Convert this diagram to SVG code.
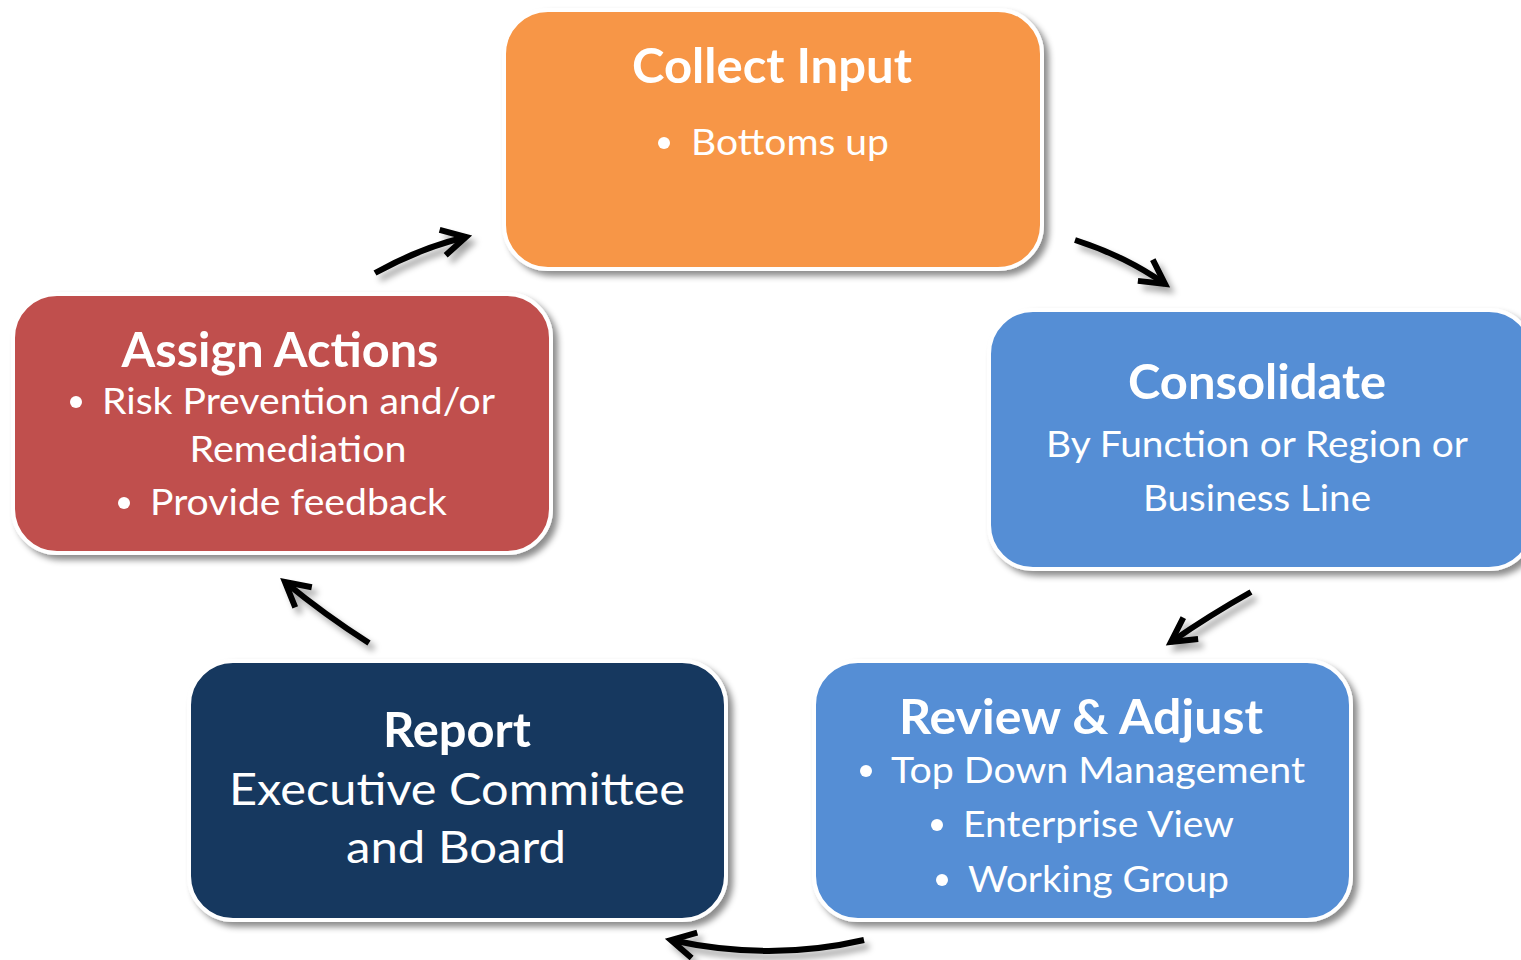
<svg xmlns="http://www.w3.org/2000/svg" width="1521" height="960" viewBox="0 0 1521 960">
  <style>
    .box { stroke: #ffffff; stroke-width: 4; }
    .title { font-family: Lato, "Open Sans", sans-serif; font-weight: bold; fill: #ffffff; text-anchor: middle; }
    .body { font-family: Lato, "Open Sans", sans-serif; fill: #ffffff; }
    .mid { text-anchor: middle; }
    .dot { fill: #ffffff; }
    .conn { fill: none; stroke: #000000; stroke-width: 6; stroke-linecap: butt; }
  </style>
  <defs>
    <filter id="shadow" x="-10%" y="-10%" width="125%" height="130%">
      <feDropShadow dx="5" dy="5" stdDeviation="3" flood-color="#000000" flood-opacity="0.45"/>
    </filter>
    <filter id="arrowShadow" x="-30%" y="-30%" width="170%" height="190%">
      <feDropShadow dx="5" dy="6" stdDeviation="3" flood-color="#000000" flood-opacity="0.35"/>
    </filter>
    <marker id="head" markerUnits="userSpaceOnUse" markerWidth="40" markerHeight="40" refX="0" refY="0" viewBox="-30 -20 40 40" orient="auto" overflow="visible">
      <path d="M-24,-13 L0,0 L-24,13" fill="none" stroke="#000000" stroke-width="6" stroke-linejoin="miter"/>
    </marker>
  </defs>

  <!-- connectors -->
  <g id="connectors" filter="url(#arrowShadow)">
    <path class="conn" d="M375,273 Q420,248 466,237" marker-end="url(#head)"/>
    <path class="conn" d="M1075,240 Q1125,256 1165,284" marker-end="url(#head)"/>
    <path class="conn" d="M1251,592 Q1210,615 1171,642" marker-end="url(#head)"/>
    <path class="conn" d="M864,940 Q770,962 671,940" marker-end="url(#head)"/>
    <path class="conn" d="M369,643 Q325,615 285,582" marker-end="url(#head)"/>
  </g>

  <!-- Collect Input -->
  <g id="collect-input">
    <rect class="box" x="504" y="10" width="538" height="259" rx="44" fill="#F79646" filter="url(#shadow)"/>
    <text class="title" x="772" y="83" font-size="48" textLength="280" lengthAdjust="spacingAndGlyphs">Collect Input</text>
    <circle class="dot" cx="664" cy="143" r="6"/>
    <text class="body" x="691" y="155" font-size="37" textLength="198" lengthAdjust="spacingAndGlyphs">Bottoms up</text>
  </g>

  <!-- Consolidate -->
  <g id="consolidate">
    <rect class="box" x="989" y="310" width="544" height="259" rx="44" fill="#558ED5" filter="url(#shadow)"/>
    <text class="title" x="1257" y="399" font-size="48" textLength="258" lengthAdjust="spacingAndGlyphs">Consolidate</text>
    <text class="body mid" x="1257" y="457" font-size="37" textLength="422" lengthAdjust="spacingAndGlyphs">By Function or Region or</text>
    <text class="body mid" x="1257" y="511" font-size="37" textLength="228" lengthAdjust="spacingAndGlyphs">Business Line</text>
  </g>

  <!-- Assign Actions -->
  <g id="assign-actions">
    <rect class="box" x="13" y="294" width="538" height="259" rx="44" fill="#C0504D" filter="url(#shadow)"/>
    <text class="title" x="280" y="367" font-size="48" textLength="317" lengthAdjust="spacingAndGlyphs">Assign Actions</text>
    <circle class="dot" cx="76" cy="402" r="6"/>
    <text class="body" x="102" y="414" font-size="37" textLength="393" lengthAdjust="spacingAndGlyphs">Risk Prevention and/or</text>
    <text class="body mid" x="298" y="462" font-size="37" textLength="217" lengthAdjust="spacingAndGlyphs">Remediation</text>
    <circle class="dot" cx="124" cy="503" r="6"/>
    <text class="body" x="150" y="515" font-size="37" textLength="297" lengthAdjust="spacingAndGlyphs">Provide feedback</text>
  </g>

  <!-- Report -->
  <g id="report">
    <rect class="box" x="189" y="661" width="537" height="259" rx="44" fill="#17375E" filter="url(#shadow)"/>
    <text class="title" x="457" y="747" font-size="48" textLength="148" lengthAdjust="spacingAndGlyphs">Report</text>
    <text class="body mid" x="457" y="805" font-size="44" textLength="456" lengthAdjust="spacingAndGlyphs">Executive Committee</text>
    <text class="body mid" x="456" y="863" font-size="44" textLength="220" lengthAdjust="spacingAndGlyphs">and Board</text>
  </g>

  <!-- Review & Adjust -->
  <g id="review-adjust">
    <rect class="box" x="814" y="661" width="537" height="259" rx="44" fill="#558ED5" filter="url(#shadow)"/>
    <text class="title" x="1081" y="734" font-size="48" textLength="364" lengthAdjust="spacingAndGlyphs">Review &amp; Adjust</text>
    <circle class="dot" cx="866" cy="771" r="6"/>
    <text class="body" x="891" y="783" font-size="37" textLength="414" lengthAdjust="spacingAndGlyphs">Top Down Management</text>
    <circle class="dot" cx="937" cy="825" r="6"/>
    <text class="body" x="963" y="837" font-size="37" textLength="271" lengthAdjust="spacingAndGlyphs">Enterprise View</text>
    <circle class="dot" cx="942" cy="880" r="6"/>
    <text class="body" x="968" y="892" font-size="37" textLength="261" lengthAdjust="spacingAndGlyphs">Working Group</text>
  </g>
</svg>
